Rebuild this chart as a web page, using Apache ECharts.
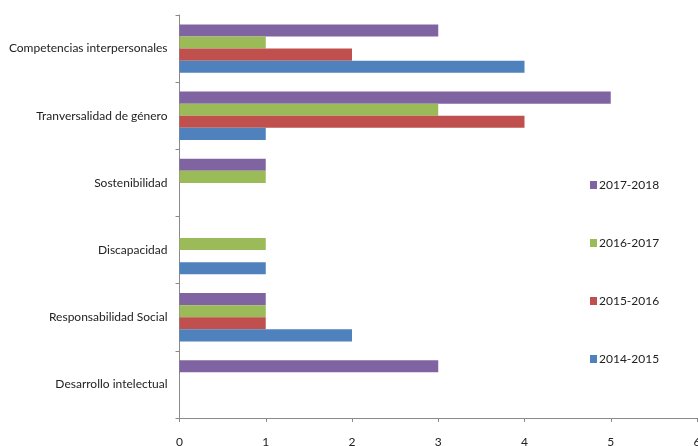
<!DOCTYPE html>
<html><head><meta charset="utf-8">
<script src="https://cdn.jsdelivr.net/npm/echarts@6/dist/echarts.min.js"></script>
<style>html,body{margin:0;padding:0;background:#fff}#c{width:698px;height:446px}</style>
</head><body><div id="c"></div>
<script>
const categories = ['Desarrollo intelectual','Responsabilidad Social','Discapacidad','Sostenibilidad','Tranversalidad de género','Competencias interpersonales'];
const seriesNames = ['2017-2018','2016-2017','2015-2016','2014-2015'];
const s2017 = [3,1,0,1,5,3];
const s2016 = [0,1,1,1,3,1];
const s2015 = [0,1,0,0,4,2];
const s2014 = [0,2,1,0,1,4];
const xTicks = [0,1,2,3,4,5,6];
const colors = ['#8064A2','#9BBB59','#C0504D','#4F81BD'];
const font = 'Lato, sans-serif';
const data = [s2017,s2016,s2015,s2014];
const chart = echarts.init(document.getElementById('c'));
chart.setOption({
  animation:false,
  textStyle:{fontFamily:font},
  grid:{left:179.5,right:1,top:15,bottom:28,containLabel:false,outerBoundsMode:'none'},
  legend:{orient:'vertical',left:585,top:174,itemGap:46,itemWidth:7,itemHeight:8,icon:'rect',
    data:seriesNames,
    textStyle:{fontFamily:font,fontSize:12,color:'#222',padding:[0,0,0,-3]}},
  xAxis:{type:'value',min:0,max:6,interval:1,
    axisLine:{show:true,lineStyle:{color:'#8a8a8a'}},
    axisTick:{show:true,length:4,lineStyle:{color:'#8a8a8a'}},
    splitLine:{show:false},
    axisLabel:{margin:18,fontFamily:font,fontSize:12,color:'#222',
      formatter:v=>xTicks.includes(v)?String(v):''}},
  yAxis:{type:'category',data:categories,
    axisLine:{show:true,lineStyle:{color:'#8a8a8a'}},
    axisTick:{show:true,length:4,lineStyle:{color:'#8a8a8a'}},
    axisLabel:{margin:12,fontFamily:font,fontSize:12,color:'#222',padding:[3,0,0,0]}},
  series:data.map((d,i)=>({name:seriesNames[i],type:'bar',data:d,
    itemStyle:{color:colors[i]},barGap:'0%',barCategoryGap:'28%'}))
});
</script></body></html>
